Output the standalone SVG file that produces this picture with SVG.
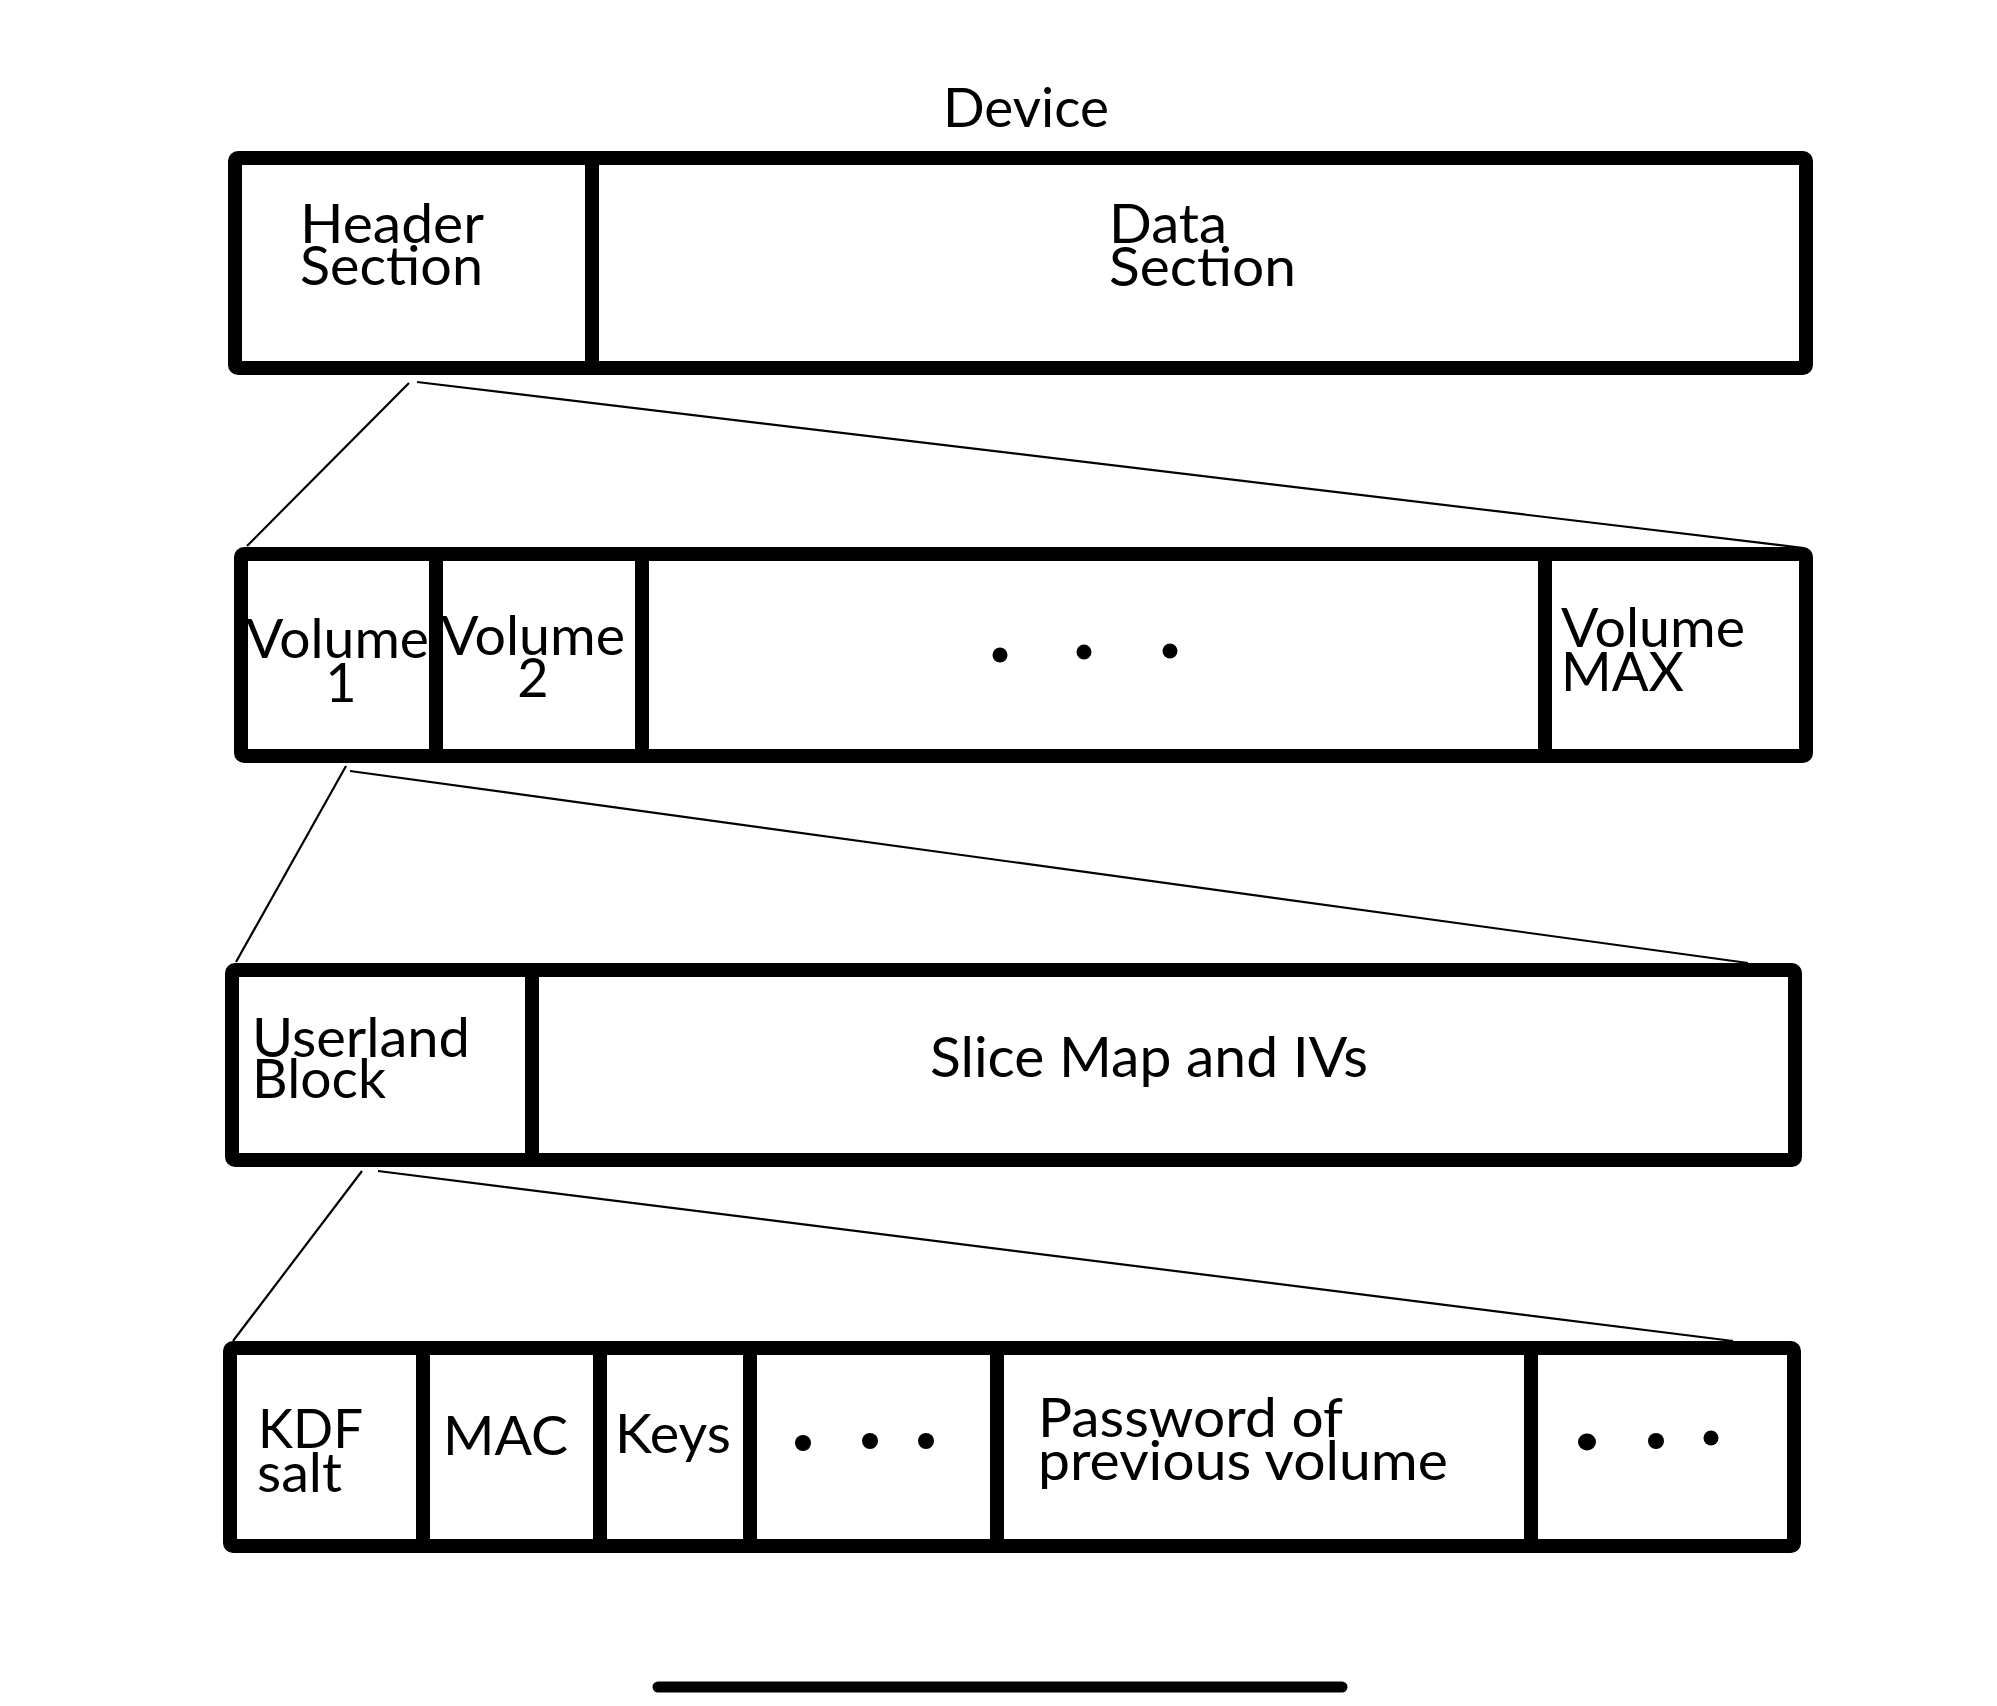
<svg xmlns="http://www.w3.org/2000/svg" width="1997" height="1706" viewBox="0 0 1997 1706">
<style>
  .box { fill: none; stroke: #000; stroke-width: 14; stroke-linejoin: round; }
  .div { stroke: #000; stroke-width: 14; stroke-linecap: round; }
  .con { stroke: #000; stroke-width: 2.2; fill: none; }
  .t { font-family: Lato, "Noto Sans", "Liberation Sans", sans-serif; font-size: 54px; fill: #000; }
  .dot { fill: #000; }
</style>
<rect width="1997" height="1706" fill="#fff"/>

<g id="connectors">
  <line class="con" x1="409" y1="383" x2="247" y2="546"/>
  <line class="con" x1="417" y1="382" x2="1804" y2="548"/>
  <line class="con" x1="346" y1="766" x2="236" y2="962"/>
  <line class="con" x1="350" y1="771" x2="1748" y2="963"/>
  <line class="con" x1="362" y1="1171" x2="233" y2="1341"/>
  <line class="con" x1="378" y1="1171" x2="1733" y2="1341"/>
</g>

<text class="t" x="943" y="127" textLength="166" lengthAdjust="spacingAndGlyphs">Device</text>

<g id="device">
  <rect class="box" x="235" y="158" width="1571" height="210" rx="3"/>
  <line class="div" x1="592" y1="158" x2="592" y2="368"/>
  <g id="header-section">
    <text class="t" x="300" y="243" textLength="184" lengthAdjust="spacingAndGlyphs">Header</text>
    <text class="t" x="300" y="285" textLength="183" lengthAdjust="spacingAndGlyphs">Section</text>
  </g>
  <g id="data-section">
    <text class="t" x="1109" y="243" textLength="118" lengthAdjust="spacingAndGlyphs">Data</text>
    <text class="t" x="1109" y="286" textLength="187" lengthAdjust="spacingAndGlyphs">Section</text>
  </g>
</g>

<g id="volumes">
  <rect class="box" x="241" y="554" width="1565" height="202" rx="3"/>
  <line class="div" x1="436" y1="554" x2="436" y2="756"/>
  <line class="div" x1="642" y1="554" x2="642" y2="756"/>
  <line class="div" x1="1545" y1="561" x2="1545" y2="756"/>
  <g id="volume-1">
    <text class="t" x="246" y="658" textLength="183" lengthAdjust="spacingAndGlyphs">Volume</text>
    <text class="t" x="341" y="702" text-anchor="middle">1</text>
  </g>
  <g id="volume-2">
    <text class="t" x="441" y="655" textLength="184" lengthAdjust="spacingAndGlyphs">Volume</text>
    <text class="t" x="533" y="697" text-anchor="middle">2</text>
  </g>
  <g id="volume-ellipsis">
    <circle class="dot" cx="1000" cy="655" r="7.5"/>
    <circle class="dot" cx="1084" cy="652" r="7.5"/>
    <circle class="dot" cx="1170" cy="651" r="7.5"/>
  </g>
  <g id="volume-max">
    <text class="t" x="1561" y="647" textLength="184" lengthAdjust="spacingAndGlyphs">Volume</text>
    <text class="t" x="1561" y="691" textLength="123" lengthAdjust="spacingAndGlyphs">MAX</text>
  </g>
</g>

<g id="volume-layout">
  <rect class="box" x="232" y="970" width="1563" height="190" rx="3"/>
  <line class="div" x1="532" y1="970" x2="532" y2="1160"/>
  <g id="userland-block">
    <text class="t" x="252" y="1057" textLength="218" lengthAdjust="spacingAndGlyphs">Userland</text>
    <text class="t" x="252" y="1098" textLength="134" lengthAdjust="spacingAndGlyphs">Block</text>
  </g>
  <g id="slice-map">
    <text class="t" x="930" y="1077" textLength="438" lengthAdjust="spacingAndGlyphs" style="font-size:56px">Slice Map and IVs</text>
  </g>
</g>

<g id="userland-layout">
  <rect class="box" x="230" y="1348" width="1564" height="198" rx="3"/>
  <line class="div" x1="423" y1="1348" x2="423" y2="1546"/>
  <line class="div" x1="600" y1="1348" x2="600" y2="1546"/>
  <line class="div" x1="750" y1="1348" x2="750" y2="1546"/>
  <line class="div" x1="997" y1="1348" x2="997" y2="1546"/>
  <line class="div" x1="1531" y1="1348" x2="1531" y2="1546"/>
  <g id="kdf-salt">
    <text class="t" x="258" y="1448" textLength="105" lengthAdjust="spacingAndGlyphs">KDF</text>
    <text class="t" x="257" y="1492" textLength="85" lengthAdjust="spacingAndGlyphs">salt</text>
  </g>
  <g id="mac">
    <text class="t" x="443" y="1455" textLength="125" lengthAdjust="spacingAndGlyphs">MAC</text>
  </g>
  <g id="keys">
    <text class="t" x="615" y="1453" textLength="116" lengthAdjust="spacingAndGlyphs">Keys</text>
  </g>
  <g id="ellipsis-1">
    <circle class="dot" cx="803" cy="1443" r="8"/>
    <circle class="dot" cx="870" cy="1441" r="8"/>
    <circle class="dot" cx="926" cy="1441" r="8"/>
  </g>
  <g id="password-prev">
    <text class="t" x="1038" y="1437" textLength="305" lengthAdjust="spacingAndGlyphs">Password of</text>
    <text class="t" x="1038" y="1480" textLength="410" lengthAdjust="spacingAndGlyphs">previous volume</text>
  </g>
  <g id="ellipsis-2">
    <ellipse class="dot" cx="1587" cy="1442" rx="9" ry="8.5"/>
    <circle class="dot" cx="1656" cy="1441" r="8"/>
    <circle class="dot" cx="1711" cy="1438" r="7.5"/>
  </g>
</g>

<line x1="658" y1="1687" x2="1342" y2="1687" stroke="#000" stroke-width="11" stroke-linecap="round"/>
</svg>
